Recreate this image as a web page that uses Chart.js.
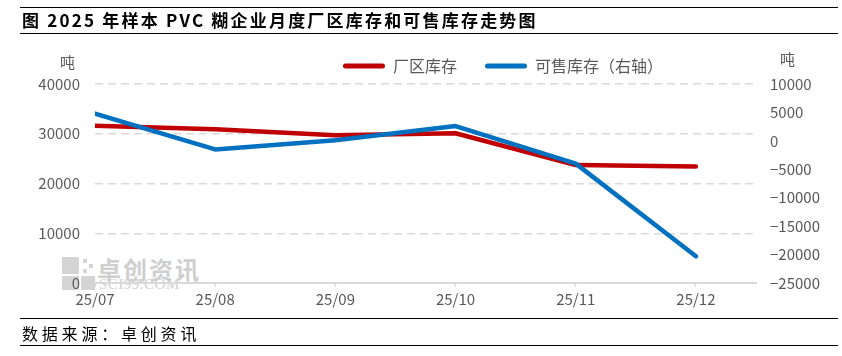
<!DOCTYPE html>
<html>
<head>
<meta charset="utf-8">
<script src="https://cdn.jsdelivr.net/npm/chart.js@4/dist/chart.umd.min.js"></script>
<style>
  html, body { margin: 0; padding: 0; background: #fff; }
  #wrap { position: relative; width: 842px; height: 356px; overflow: hidden; font-family: "Noto Sans CJK SC", sans-serif; }
  #c { position: absolute; left: 0; top: 0; }
  .rule { position: absolute; left: 20px; width: 818px; height: 0; border-top: 1.5px solid #000; }
  #title { position: absolute; left: 22px; top: 8px; font-size: 17px; font-weight: bold; letter-spacing: 2.2px; color: #000; white-space: nowrap; line-height: 24px; }
  #source { position: absolute; left: 22px; top: 321px; font-size: 16px; letter-spacing: 3.8px; color: #000; white-space: nowrap; line-height: 24px; }
  .unit { position: absolute; font-size: 15px; color: #595959; line-height: 18px; }
  .wm { position: absolute; color: #cfcfcf; white-space: nowrap; }
  .sq { position: absolute; background: #d4d4d4; }
</style>
</head>
<body>
<div id="wrap">
  <div class="sq" style="left:62px;top:257px;width:17px;height:17px;"></div>
  <div class="sq" style="left:62px;top:276px;width:17px;height:14px;"></div>
  <div class="sq" style="left:81px;top:276px;width:14px;height:14px;"></div>
  <div class="sq" style="left:83px;top:259px;width:4px;height:4px;"></div>
  <div class="sq" style="left:89px;top:264px;width:4px;height:4px;"></div>
  <div class="sq" style="left:83px;top:269px;width:4px;height:4px;"></div>
  <div class="wm" style="left:97px;top:254px;font-size:24px;font-weight:bold;letter-spacing:2px;line-height:30px;">卓创资讯</div>
  <div class="wm" style="left:99px;top:276px;font-size:15px;font-family:'Liberation Serif',serif;letter-spacing:0.5px;line-height:16px;">SCI99.COM</div>
  <canvas id="c" width="842" height="356"></canvas>
  <div class="rule" style="top:7px;"></div>
  <div id="title">图 2025 年样本 PVC 糊企业月度厂区库存和可售库存走势图</div>
  <div class="rule" style="top:33px;"></div>
  <div class="unit" style="left:60px;top:53px;">吨</div>
  <div class="unit" style="left:780px;top:50px;">吨</div>
  <div class="rule" style="top:318px;"></div>
  <div id="source">数据来源：卓创资讯</div>
  <div class="rule" style="top:345px;"></div>
</div>
<script>
const months = ["25/07", "25/08", "25/09", "25/10", "25/11", "25/12"];
const factoryStock = [31600, 30900, 29700, 30100, 23700, 23400];
const saleableStock = [4800, -1500, 100, 2600, -4000, -20300];
const seriesNames = ["厂区库存", "可售库存（右轴）"];
const leftTicks = [0, 10000, 20000, 30000, 40000];
const rightTicks = [-25000, -20000, -15000, -10000, -5000, 0, 5000, 10000];

const RED = "#C00000";
const BLUE = "#0070C0";
const GRAY = "#595959";
const GRID = "#d9d9d9";
const tickFont = { family: "'Noto Sans CJK SC', sans-serif", size: 15 };

const toPoints = (arr) => arr.map((v, i) => ({ x: i, y: v }));
const fmt = (v) => (v < 0 ? "\u2212" + Math.abs(v) : String(v));

const legendShift = {
  id: "legendShift",
  afterLayout(chart) {
    const lg = chart.legend;
    if (lg) { lg.left += 82; lg.right += 82; }
  }
};

new Chart(document.getElementById("c"), {
  type: "line",
  data: {
    datasets: [
      {
        label: seriesNames[0],
        data: toPoints(factoryStock),
        yAxisID: "y",
        borderColor: RED,
        backgroundColor: RED,
        borderWidth: 4.5,
        pointRadius: 0,
        tension: 0,
        borderCapStyle: "round",
        borderJoinStyle: "round",
        order: 2
      },
      {
        label: seriesNames[1],
        data: toPoints(saleableStock),
        yAxisID: "y1",
        borderColor: BLUE,
        backgroundColor: BLUE,
        borderWidth: 4.5,
        pointRadius: 0,
        tension: 0,
        borderCapStyle: "round",
        borderJoinStyle: "round",
        order: 1
      }
    ]
  },
  options: {
    responsive: false,
    animation: false,
    layout: { padding: { top: 30, left: 0, right: 0, bottom: 0 } },
    plugins: {
      tooltip: { enabled: false },
      legend: {
        position: "top",
        align: "center",
        labels: {
          color: GRAY,
          font: { family: "'Noto Sans CJK SC', sans-serif", size: 16 },
          boxWidth: 42,
          boxHeight: 5,
          padding: 28,
          useBorderRadius: true,
          borderRadius: 2.5,
          sort: (a, b) => a.datasetIndex - b.datasetIndex,
          generateLabels(chart) {
            const items = Chart.defaults.plugins.legend.labels.generateLabels(chart);
            items.forEach((it) => { it.lineWidth = 0; it.fillStyle = it.strokeStyle; });
            return items;
          }
        }
      }
    },
    scales: {
      x: {
        type: "linear",
        min: 0,
        max: 5.5,
        afterBuildTicks(scale) {
          scale.ticks = months.map((m, i) => ({ value: i }));
        },
        afterFit(scale) { scale.height = 356 - 283; },
        ticks: {
          stepSize: 1,
          color: GRAY,
          font: tickFont,
          padding: 3,
          maxRotation: 0,
          autoSkip: false,
          callback: (v) => months[v]
        },
        grid: {
          drawOnChartArea: false,
          drawTicks: true,
          tickLength: 4,
          tickColor: GRID,
          tickWidth: 1.5,
          color: GRID
        },
        border: { display: true, color: GRID, width: 2 }
      },
      y: {
        position: "left",
        min: leftTicks[0],
        max: leftTicks[leftTicks.length - 1],
        afterBuildTicks(scale) { scale.ticks = leftTicks.map((v) => ({ value: v })); },
        afterFit(scale) { scale.width = 95; },
        ticks: { color: GRAY, font: tickFont, padding: 15, callback: fmt },
        grid: {
          drawTicks: false,
          lineWidth: 1.5,
          color: (ctx) => (ctx.tick && ctx.tick.value === 0 ? "rgba(0,0,0,0)" : GRID)
        },
        border: { display: false, dash: [8, 5] }
      },
      y1: {
        position: "right",
        min: rightTicks[0],
        max: rightTicks[rightTicks.length - 1],
        afterBuildTicks(scale) { scale.ticks = rightTicks.map((v) => ({ value: v })); },
        afterFit(scale) { scale.width = 842 - 756; },
        ticks: { color: GRAY, font: tickFont, padding: 14, callback: fmt },
        grid: { drawOnChartArea: false, drawTicks: false },
        border: { display: false }
      }
    }
  },
  plugins: [legendShift]
});
</script>
</body>
</html>
